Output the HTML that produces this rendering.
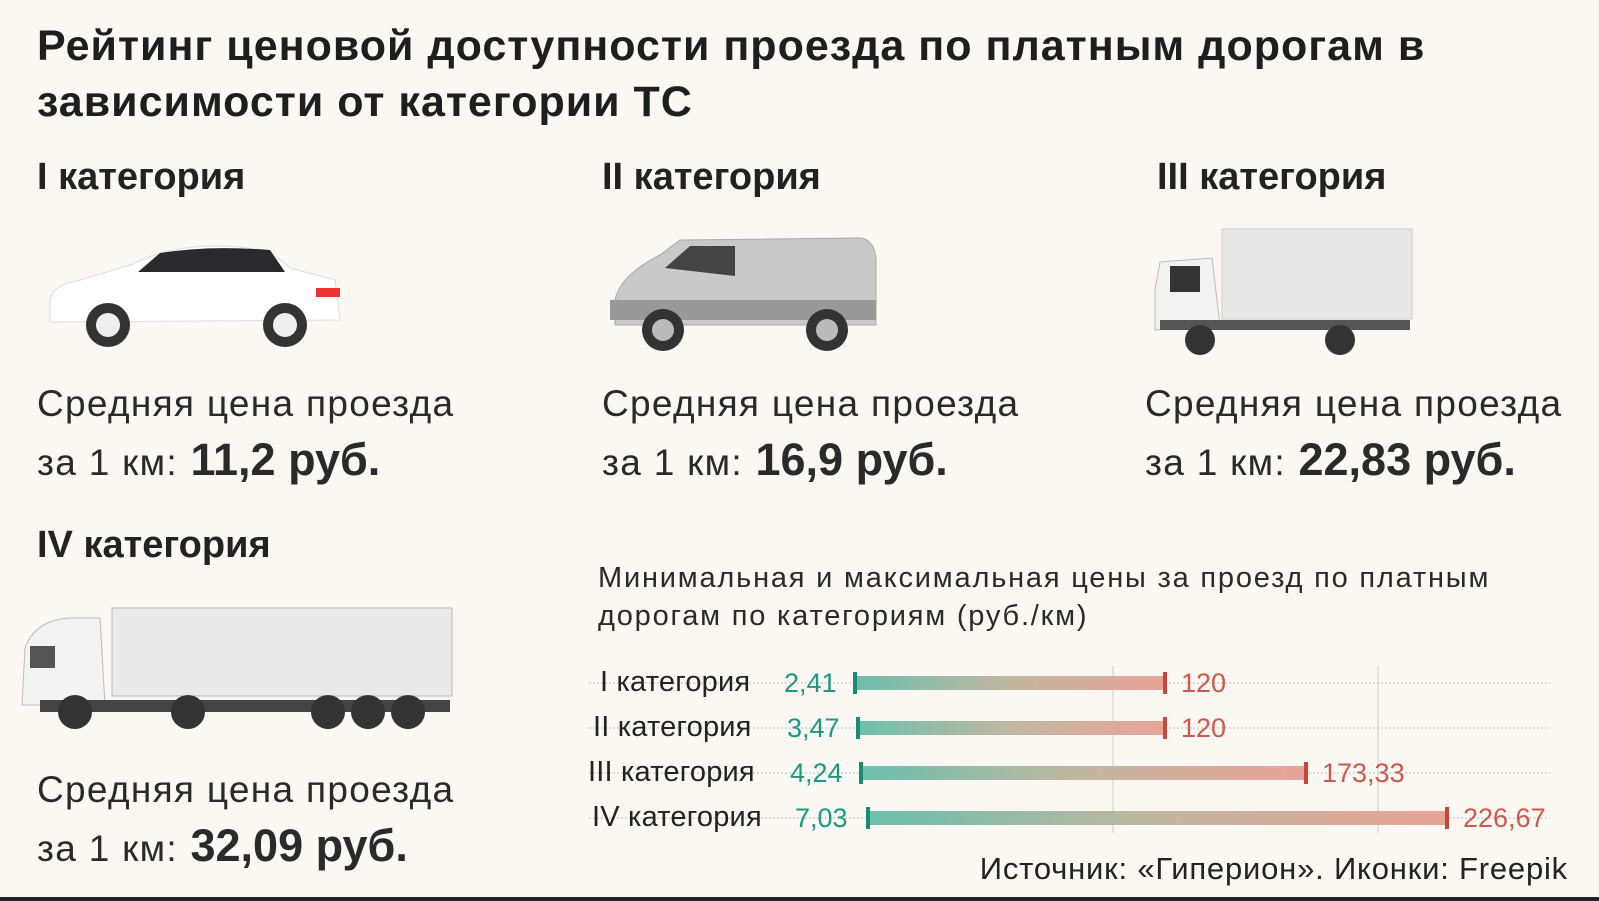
<!DOCTYPE html>
<html><head><meta charset="utf-8"><style>
body{margin:0;width:1599px;height:901px;background:#fbf7f3;position:relative;overflow:hidden;font-family:"Liberation Sans","DejaVu Sans",sans-serif;color:#222}
.a{position:absolute;white-space:nowrap}
.t{font-weight:bold;font-size:43px;left:37px;line-height:56px;top:18px;color:#1e1e1e;letter-spacing:1px}
.h{font-weight:bold;font-size:38px}
.p{font-size:37px;color:#2a2a2a;line-height:56px;letter-spacing:1.3px}
.p b{font-size:45px;letter-spacing:0}
.lab{font-size:29px;color:#222;letter-spacing:0.2px}
.g{font-size:27px;color:#1a9a80}
.r{font-size:27px;color:#d0584a}
</style></head><body>
<div class="a t">Рейтинг ценовой доступности проезда по платным дорогам в<br>зависимости от категории ТС</div>
<div class="a h" style="left:37px;top:156px">I категория</div>
<div class="a h" style="left:602px;top:156px">II категория</div>
<div class="a h" style="left:1157px;top:156px">III категория</div>
<div class="a h" style="left:37px;top:524px">IV категория</div>
<div class="a p" style="left:37px;top:376px">Средняя цена проезда<br>за 1 км:<b> 11,2 руб.</b></div>
<div class="a p" style="left:602px;top:376px">Средняя цена проезда<br>за 1 км:<b> 16,9 руб.</b></div>
<div class="a p" style="left:1145px;top:376px">Средняя цена проезда<br>за 1 км:<b> 22,83 руб.</b></div>
<div class="a p" style="left:37px;top:762px">Средняя цена проезда<br>за 1 км:<b> 32,09 руб.</b></div>

<svg class="a" style="left:0;top:0" width="1599" height="901">
<path d="M50 300 Q52 285 80 280 L130 265 Q170 245 220 246 Q270 246 290 268 L335 280 L340 320 L50 322 Z" fill="#fff" stroke="#ddd"/>
<path d="M138 272 L160 253 Q210 245 270 250 L285 272 Z" fill="#2a2a2c"/>
<rect x="316" y="288" width="24" height="9" fill="#e33"/>
<circle cx="108" cy="325" r="22" fill="#333"/><circle cx="108" cy="325" r="12" fill="#eee"/>
<circle cx="285" cy="325" r="22" fill="#333"/><circle cx="285" cy="325" r="12" fill="#eee"/>
<path d="M615 300 Q620 275 660 255 L680 240 L860 238 Q875 240 876 260 L876 325 L615 325 Z" fill="#c9c9c9" stroke="#aaa"/>
<path d="M665 268 L690 246 L735 246 L735 276 Z" fill="#444"/>
<rect x="610" y="300" width="266" height="20" fill="#999"/>
<circle cx="663" cy="330" r="21" fill="#333"/><circle cx="663" cy="330" r="11" fill="#bbb"/>
<circle cx="827" cy="330" r="21" fill="#333"/><circle cx="827" cy="330" r="11" fill="#bbb"/>
<rect x="1222" y="229" width="190" height="90" fill="#e8e8e8" stroke="#ccc"/>
<path d="M1155 290 L1160 262 L1212 258 L1220 325 L1155 330 Z" fill="#f2f2f2" stroke="#bbb"/>
<rect x="1170" y="266" width="30" height="26" fill="#333"/>
<rect x="1160" y="320" width="250" height="10" fill="#555"/>
<circle cx="1200" cy="340" r="15" fill="#333"/><circle cx="1340" cy="340" r="15" fill="#333"/>
<rect x="112" y="608" width="340" height="88" fill="#e9e9e9" stroke="#bbb"/>
<path d="M22 705 L25 648 Q35 620 70 618 L100 618 L105 705 Z" fill="#f3f3f3" stroke="#bbb"/>
<rect x="30" y="646" width="25" height="22" fill="#555"/>
<rect x="40" y="700" width="410" height="12" fill="#444"/>
<g fill="#333"><circle cx="75" cy="712" r="17"/><circle cx="188" cy="712" r="17"/><circle cx="328" cy="712" r="17"/><circle cx="368" cy="712" r="17"/><circle cx="408" cy="712" r="17"/></g>

<defs><linearGradient id="gr" x1="0" x2="1"><stop offset="0" stop-color="#6cbfae"/><stop offset="0.5" stop-color="#c1b7a0"/><stop offset="1" stop-color="#e9a398"/></linearGradient></defs>
<g stroke="#bbb" stroke-dasharray="2 2" stroke-width="1">
<line x1="589" x2="1550" y1="683" y2="683"/><line x1="589" x2="1550" y1="728" y2="728"/><line x1="589" x2="1550" y1="773" y2="773"/><line x1="589" x2="1550" y1="818" y2="818"/></g>
<line x1="1113" x2="1113" y1="666" y2="833" stroke="#ccc"/>
<line x1="1378" x2="1378" y1="666" y2="833" stroke="#ccc"/>
<rect x="855" y="676" width="310" height="14" fill="url(#gr)"/>
<rect x="858" y="721" width="307" height="14" fill="url(#gr)"/>
<rect x="861" y="766" width="445" height="14" fill="url(#gr)"/>
<rect x="868" y="811" width="579" height="14" fill="url(#gr)"/>
<g fill="#1a8a70"><rect x="853" y="672" width="4" height="22"/><rect x="856" y="717" width="4" height="22"/><rect x="859" y="762" width="4" height="22"/><rect x="866" y="807" width="4" height="22"/></g>
<g fill="#c8463a"><rect x="1163" y="672" width="4" height="22"/><rect x="1163" y="717" width="4" height="22"/><rect x="1304" y="762" width="4" height="22"/><rect x="1445" y="807" width="4" height="22"/></g>
<rect x="0" y="897" width="1599" height="4" fill="#222"/>
</svg>
<div class="a" style="left:598px;top:559px;font-size:29px;line-height:38px;color:#2a2a2a;letter-spacing:1.8px">Минимальная и максимальная цены за проезд по платным<br>дорогам по категориям (руб./км)</div>
<div class="a lab" style="left:600px;top:666px">I категория</div>
<div class="a lab" style="left:593px;top:711px">II категория</div>
<div class="a lab" style="left:588px;top:756px">III категория</div>
<div class="a lab" style="left:592px;top:801px">IV категория</div>
<div class="a g" style="left:784px;top:668px">2,41</div>
<div class="a g" style="left:787px;top:713px">3,47</div>
<div class="a g" style="left:790px;top:758px">4,24</div>
<div class="a g" style="left:795px;top:803px">7,03</div>
<div class="a r" style="left:1181px;top:668px">120</div>
<div class="a r" style="left:1181px;top:713px">120</div>
<div class="a r" style="left:1322px;top:758px">173,33</div>
<div class="a r" style="left:1463px;top:803px">226,67</div>
<div class="a" style="right:31px;top:851px;font-size:31px;color:#222;letter-spacing:0.8px">Источник: «Гиперион». Иконки: Freepik</div>
</body></html>
